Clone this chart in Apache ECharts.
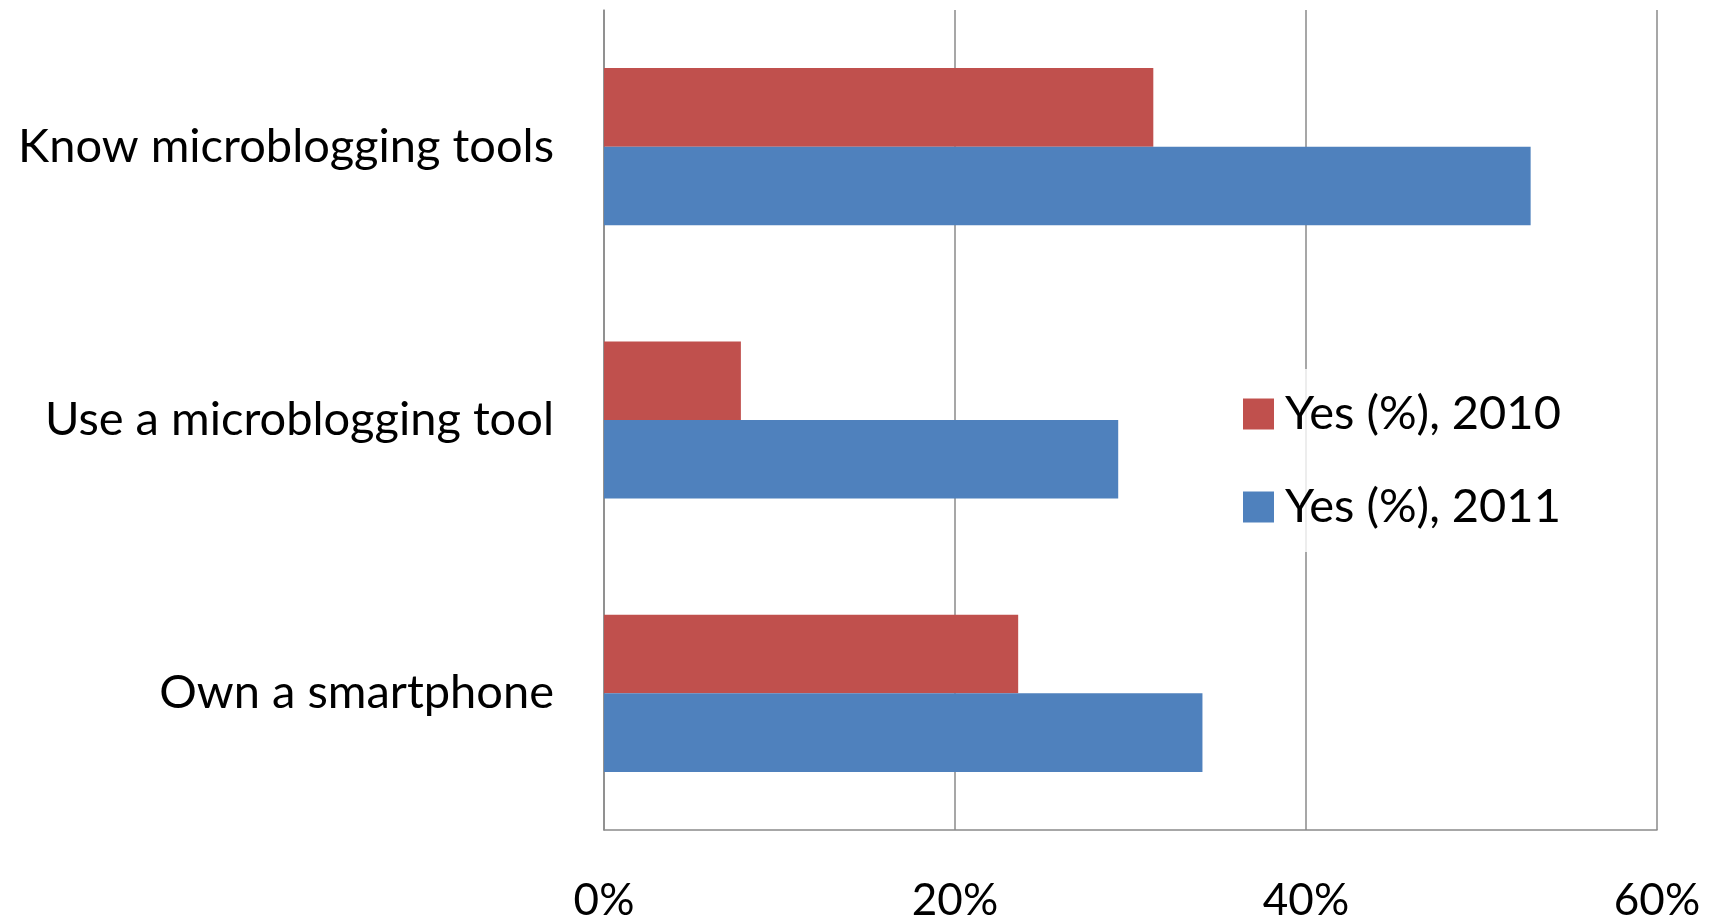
<!DOCTYPE html>
<html>
<head>
<meta charset="utf-8">
<title>Microblogging and smartphones, 2010 vs 2011</title>
<script src="https://cdn.jsdelivr.net/npm/echarts@6/dist/echarts.min.js"></script>
<style>
  html, body { margin: 0; padding: 0; background: #ffffff; }
  #chart { width: 1715px; height: 923px; }
</style>
</head>
<body>
<div id="chart"></div>
<script>
// Survey items, top to bottom
const categories = ['Know microblogging tools', 'Use a microblogging tool', 'Own a smartphone'];

// Share answering "yes", in percent
const yes2010 = [31.3, 7.8, 23.6];
const yes2011 = [52.8, 29.3, 34.1];

const seriesNames = ['Yes (%), 2010', 'Yes (%), 2011'];
const xTicks = [0, 20, 40, 60];

const FONT = 'Lato, "Open Sans", sans-serif';
const GRID_COLOR = '#8a8a8a';

const chart = echarts.init(document.getElementById('chart'), null, { renderer: 'canvas' });

chart.setOption({
  animation: false,
  backgroundColor: '#ffffff',
  textStyle: { fontFamily: FONT, color: '#000000' },
  grid: { left: 604, right: 58, top: 10, bottom: 89, containLabel: false },
  legend: {
    data: seriesNames,
    orient: 'vertical',
    left: 1230,
    top: 369,
    padding: [20, 30, 20, 13],
    itemWidth: 31,
    itemHeight: 31,
    itemGap: 43,
    backgroundColor: 'rgba(255,255,255,0.8)',
    icon: 'rect',
    textStyle: {
      fontFamily: FONT,
      fontSize: 47,
      lineHeight: 50,
      color: '#000000',
      padding: [0, 0, 0, 6]
    }
  },
  xAxis: {
    type: 'value',
    min: xTicks[0],
    max: xTicks[xTicks.length - 1],
    interval: xTicks[1] - xTicks[0],
    axisLine: { show: true, lineStyle: { color: GRID_COLOR, width: 1.5 } },
    axisTick: { show: false },
    splitLine: { show: true, lineStyle: { color: GRID_COLOR, width: 1.5 } },
    axisLabel: {
      fontFamily: FONT,
      fontSize: 44,
      color: '#000000',
      margin: 49,
      formatter: v => v + '%'
    }
  },
  yAxis: {
    type: 'category',
    data: categories,
    inverse: true,
    axisLine: { show: true, lineStyle: { color: GRID_COLOR, width: 1.5 } },
    axisTick: { show: false },
    splitLine: { show: false },
    axisLabel: {
      fontFamily: FONT,
      fontSize: 47,
      color: '#000000',
      margin: 50
    }
  },
  series: [
    {
      name: seriesNames[0],
      type: 'bar',
      data: yes2010,
      barCategoryGap: '42.5%',
      barGap: '0%',
      itemStyle: { color: '#C0504D' }
    },
    {
      name: seriesNames[1],
      type: 'bar',
      data: yes2011,
      barCategoryGap: '42.5%',
      barGap: '0%',
      itemStyle: { color: '#4F81BD' }
    }
  ]
});
</script>
</body>
</html>
